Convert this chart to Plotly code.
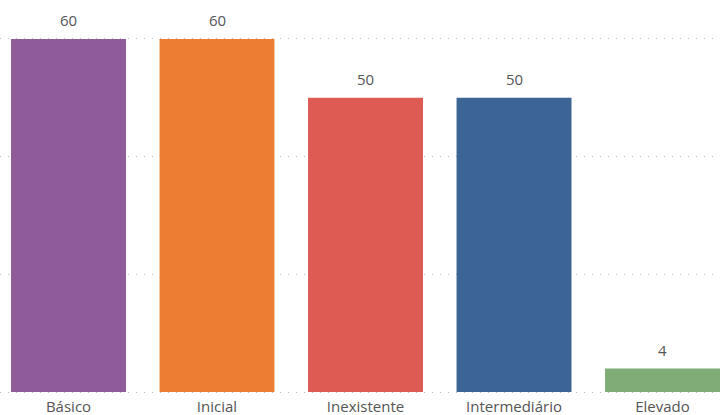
import plotly.graph_objects as go

categories = ["Básico", "Inicial", "Inexistente", "Intermediário", "Elevado"]
values = [60, 60, 50, 50, 4]
colors = ["#8F5B99", "#EC7D32", "#DD5B52", "#3C6595", "#80AC78"]

FONT = "Segoe UI, Open Sans, sans-serif"

fig = go.Figure(go.Bar(
    x=categories, y=values,
    marker=dict(color=colors, line=dict(width=0)),
    cliponaxis=False,
))
for c, v in zip(categories, values):
    fig.add_annotation(x=c, y=v, text=str(v), showarrow=False, yanchor="bottom",
                       yshift=7, font=dict(size=15, color="#555555", family=FONT))
fig.update_layout(
    width=720, height=415,
    margin=dict(l=0, r=0, t=36, b=20),
    plot_bgcolor="white", paper_bgcolor="white",
    bargap=0.226,
    showlegend=False,
    font=dict(family=FONT),
)
fig.update_xaxes(range=[-0.4613, 4.387], showgrid=False, showline=False, ticks="",
                 tickfont=dict(size=15, color="#555555"), ticklabelstandoff=1,
                 automargin=False)
fig.update_yaxes(range=[-0.5, 60.5], tickvals=[0, 20, 40, 60], showticklabels=False,
                 showgrid=True, gridcolor="#BDBDBD", griddash="1px,7px", gridwidth=1,
                 zeroline=False, showline=False, automargin=False)
fig.write_html("out.html")
